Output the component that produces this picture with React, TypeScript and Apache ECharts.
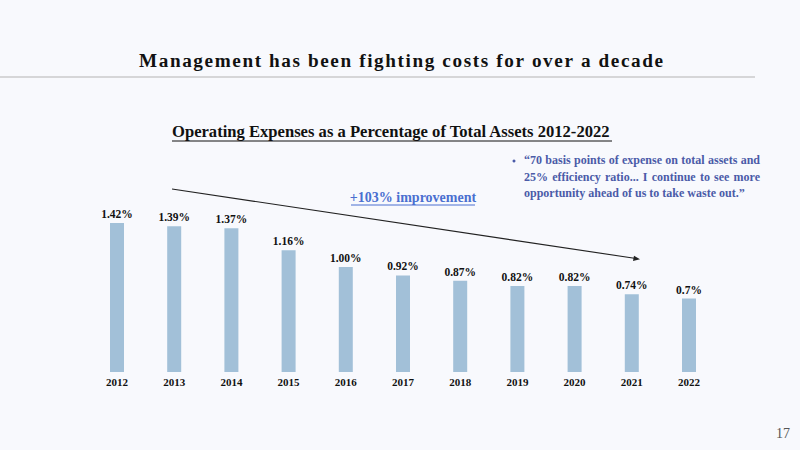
import React, { useEffect, useRef } from "react";
import * as echarts from "echarts";

const years = ["2012", "2013", "2014", "2015", "2016", "2017", "2018", "2019", "2020", "2021", "2022"];
const values = [1.42, 1.39, 1.37, 1.16, 1.0, 0.92, 0.87, 0.82, 0.82, 0.74, 0.7];
const valueLabels = ["1.42%", "1.39%", "1.37%", "1.16%", "1.00%", "0.92%", "0.87%", "0.82%", "0.82%", "0.74%", "0.7%"];

const mainTitle = "Management has been fighting costs for over a decade";
const chartTitle = "Operating Expenses as a Percentage of Total Assets 2012-2022";
const improvement = "+103% improvement";
const quoteLines = [
  "\u201C70 basis points of expense on total assets and",
  "25% efficiency ratio... I continue to see more",
  "opportunity ahead of us to take waste out.\u201D",
];
const pageNumber = "17";

const SERIF = "'Liberation Serif', 'Times New Roman', serif";

function measure(text: string, font: string): number {
  const c = document.createElement("canvas").getContext("2d");
  if (!c) return text.length * 6;
  c.font = font;
  return c.measureText(text).width;
}

export default function App() {
  const ref = useRef<HTMLDivElement>(null);
  useEffect(() => {
    if (!ref.current) return;
    const chart = echarts.init(ref.current, null, { renderer: "svg" });
    const quoteColor = "#4b5ba8";
    const qSize = 12;
    const qFont = `bold ${qSize}px ${SERIF}`;
    const qLeft = 524;
    const qRight = 760;
    const quoteEls: any[] = [];
    quoteLines.forEach((line, i) => {
      const y = 160 + i * 16.5;
      const words = line.split(" ");
      const last = i === quoteLines.length - 1;
      if (last) {
        quoteEls.push({
          type: "text",
          x: qLeft,
          y,
          style: { text: line, fontFamily: SERIF, fontWeight: "bold", fontSize: qSize, fill: quoteColor, align: "left", verticalAlign: "middle" },
        });
        return;
      }
      const widths = words.map((w) => measure(w, qFont));
      const total = widths.reduce((a, b) => a + b, 0);
      const gap = (qRight - qLeft - total) / (words.length - 1);
      let x = qLeft;
      words.forEach((w, j) => {
        quoteEls.push({
          type: "text",
          x,
          y,
          style: { text: w, fontFamily: SERIF, fontWeight: "bold", fontSize: qSize, fill: quoteColor, align: "left", verticalAlign: "middle" },
        });
        x += widths[j] + gap;
      });
    });

    chart.setOption({
      animation: false,
      backgroundColor: "#f8f9fd",
      grid: { left: 88.4, right: 800 - 717.6, top: 162.2, bottom: 450 - 372, containLabel: false },
      xAxis: {
        type: "category",
        data: years,
        axisLine: { show: false },
        axisTick: { show: false },
        axisLabel: { fontFamily: SERIF, fontWeight: "bold", fontSize: 11, color: "#111", margin: 4 },
      },
      yAxis: {
        type: "value",
        min: 0,
        max: 2,
        show: false,
        splitLine: { show: false },
      },
      series: [
        {
          type: "bar",
          data: values,
          barWidth: 14,
          itemStyle: { color: "#a2c0d8" },
          label: {
            show: true,
            position: "top",
            distance: 3,
            fontFamily: SERIF,
            fontWeight: "bold",
            fontSize: 11.5,
            color: "#111",
            formatter: (p: any) => valueLabels[p.dataIndex],
          },
        },
      ],
      graphic: [
        {
          type: "text",
          x: 401,
          y: 60,
          style: {
            text: mainTitle.split("").join("\u200A"),
            fontFamily: SERIF,
            fontWeight: "bold",
            fontSize: 19.2,
            fill: "#111",
            align: "center",
            verticalAlign: "middle",
          },
        },
        {
          type: "line",
          shape: { x1: 0, y1: 77, x2: 755, y2: 77 },
          style: { stroke: "#b4b4b4", lineWidth: 1.2 },
        },
        {
          type: "text",
          x: 172,
          y: 131,
          style: {
            text: chartTitle,
            fontFamily: SERIF,
            fontWeight: "bold",
            fontSize: 16.6,
            fill: "#111",
            align: "left",
            verticalAlign: "middle",
          },
        },
        {
          type: "line",
          shape: { x1: 172, y1: 141, x2: 612, y2: 141 },
          style: { stroke: "#111", lineWidth: 1 },
        },
        {
          type: "line",
          shape: { x1: 172, y1: 189, x2: 636, y2: 258.5 },
          style: { stroke: "#222", lineWidth: 1.1 },
        },
        {
          type: "polygon",
          shape: { points: [[640, 259.3], [634, 255.7], [633, 261]] },
          style: { fill: "#222" },
        },
        {
          type: "text",
          x: 413,
          y: 197,
          style: {
            text: improvement,
            fontFamily: SERIF,
            fontWeight: "bold",
            fontSize: 14,
            fill: "#4a6fd0",
            align: "center",
            verticalAlign: "middle",
          },
        },
        {
          type: "line",
          shape: { x1: 351, y1: 205, x2: 475, y2: 205 },
          style: { stroke: "#4a6fd0", lineWidth: 1 },
        },
        {
          type: "circle",
          shape: { cx: 514, cy: 161, r: 1.5 },
          style: { fill: quoteColor },
        },
        ...quoteEls,
        {
          type: "text",
          x: 783,
          y: 433,
          style: {
            text: pageNumber,
            fontFamily: SERIF,
            fontSize: 14,
            fill: "#555",
            align: "center",
            verticalAlign: "middle",
          },
        },
      ],
    });
    return () => chart.dispose();
  }, []);
  return (
    <div
      ref={ref}
      style={{ position: "fixed", left: 0, top: 0, width: 800, height: 450 }}
    />
  );
}
